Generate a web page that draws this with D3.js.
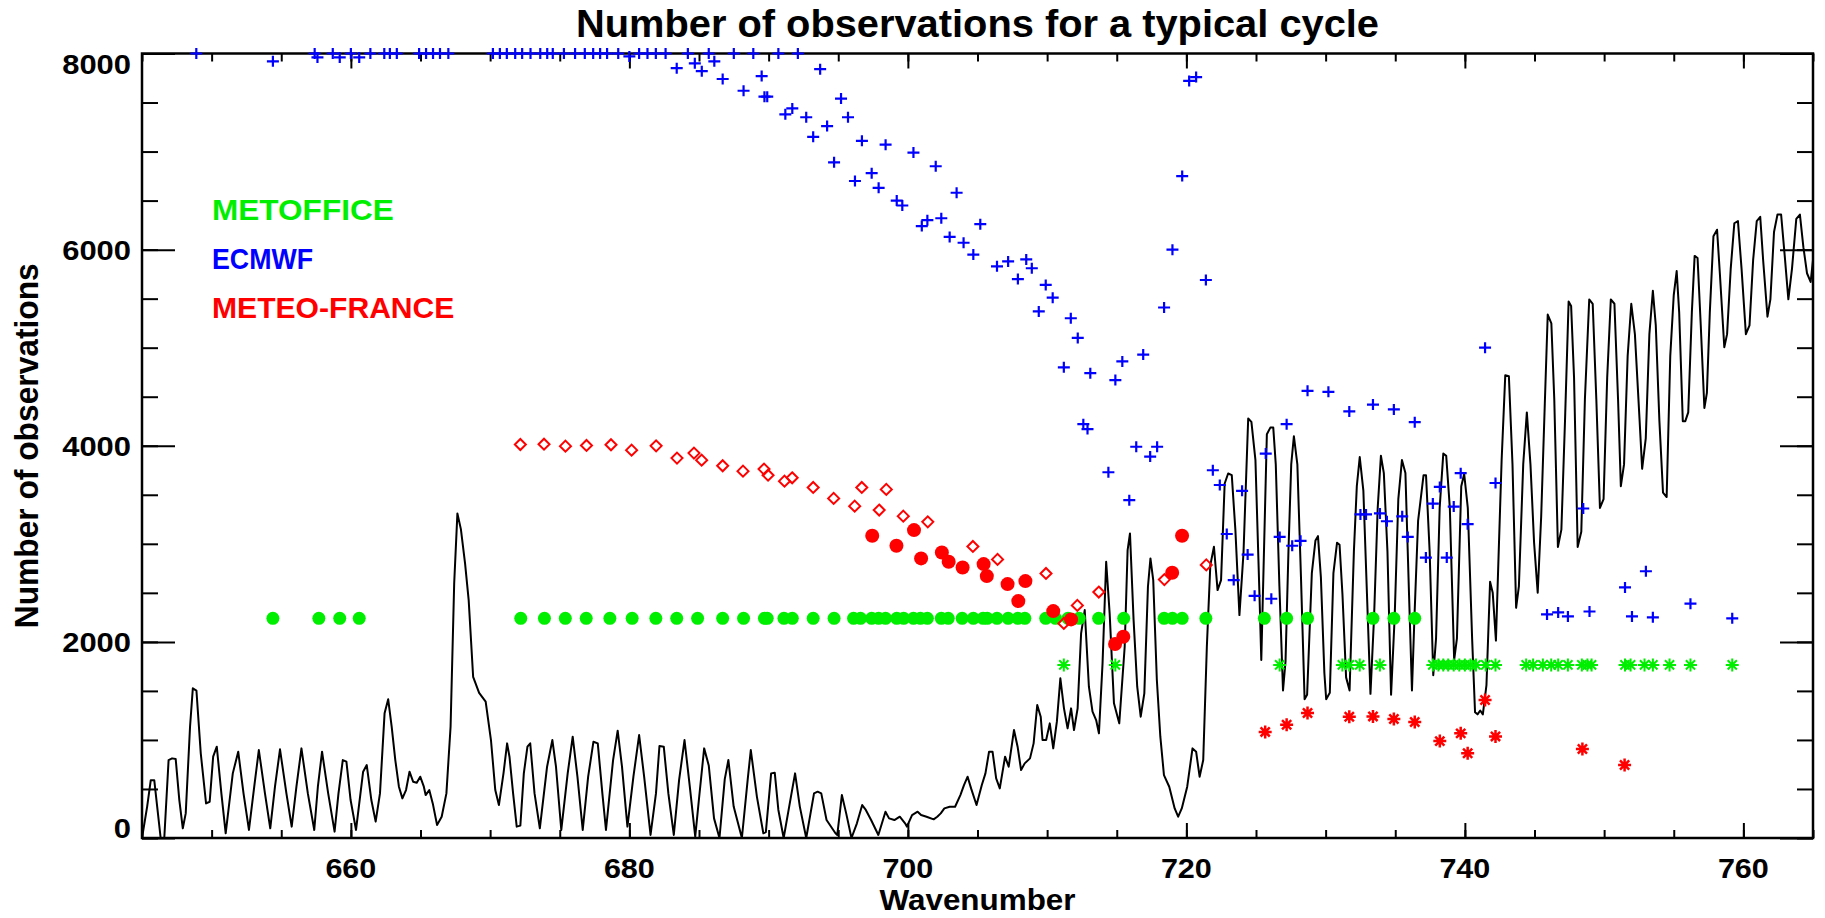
<!DOCTYPE html>
<html lang="en">
<head>
<meta charset="UTF-8">
<title>Number of observations for a typical cycle</title>
<script src="https://cdn.jsdelivr.net/npm/d3@7"></script>
<style>
  body { margin: 0; background: #fff; }
  text { font-family: "Liberation Sans", Arial, Helvetica, sans-serif; }
</style>
</head>
<body>
<svg id="chart" width="1825" height="918"></svg>
<script>
// black curve: [wavenumber, value]
const spectrum = [
  [645.0,0],[645.37,320],[645.63,590],[645.88,590],[646.09,320],[646.34,0],[646.6,0],[646.91,795],[647.16,812],[647.42,805],
  [647.68,387],[647.93,99],[648.14,251],[648.45,1135],[648.65,1526],[648.91,1502],[649.22,863],[649.6,353],[649.86,370],[650.11,829],
  [650.37,931],[650.7,455],[651.01,48],[651.52,659],[651.91,880],[652.29,455],[652.68,82],[653.06,523],[653.39,897],[653.83,455],
  [654.21,99],[654.55,523],[654.91,904],[655.37,455],[655.75,116],[656.09,523],[656.45,914],[656.91,455],[657.37,82],[657.63,523],
  [657.93,880],[658.37,455],[658.83,65],[659.11,455],[659.42,795],[659.68,778],[659.98,387],[660.37,82],[660.88,676],[661.14,744],
  [661.47,387],[661.78,167],[662.09,455],[662.42,1271],[662.68,1414],[662.93,1135],[663.19,795],[663.45,523],[663.7,404],[663.96,489],
  [664.21,676],[664.47,574],[664.73,564],[664.98,625],[665.24,523],[665.37,438],[665.63,489],[665.88,353],[666.19,133],[666.52,217],
  [666.86,455],[667.16,1135],[667.42,2600],[667.65,3310],[667.9,3150],[668.2,2800],[668.46,2426],[668.78,1644],[669.21,1480],[669.68,1390],
  [670.06,999],[670.37,489],[670.63,336],[670.96,659],[671.22,965],[671.39,829],[671.65,455],[671.91,116],[672.17,126],[672.42,659],
  [672.68,931],[672.88,965],[673.19,455],[673.57,99],[674.09,727],[674.47,999],[674.73,727],[675.11,82],[675.57,659],[675.93,1033],
  [676.27,625],[676.65,82],[677.04,625],[677.42,982],[677.73,965],[678.06,455],[678.32,82],[678.83,795],[679.16,1094],[679.47,727],
  [679.86,116],[680.29,625],[680.7,1050],[681.06,625],[681.52,31],[681.91,455],[682.16,938],[682.47,931],[682.8,455],[683.19,31],
  [683.57,591],[683.96,999],[684.34,523],[684.73,14],[685.0,400],[685.37,914],[685.7,740],[686.08,200],[686.47,0],[686.85,600],
  [687.11,795],[687.49,320],[688.08,0],[688.5,600],[688.72,897],[689.16,420],[689.62,48],[689.8,60],[690.18,659],[690.44,666],
  [690.7,286],[691.08,0],[691.6,420],[691.9,659],[692.24,320],[692.7,0],[693.26,455],[693.52,472],[693.78,455],[694.16,183],
  [694.8,48],[694.93,31],[695.26,438],[695.57,251],[695.95,0],[696.34,150],[696.72,336],[696.98,286],[697.36,183],[697.88,31],
  [698.39,268],[698.65,200],[699.03,183],[699.42,217],[699.8,150],[699.93,116],[700.3,234],[700.7,268],[700.95,234],[701.34,217],
  [701.85,190],[702.11,217],[702.36,251],[702.62,302],[703.0,319],[703.39,319],[703.77,438],[704.03,540],[704.29,625],[704.54,506],
  [704.93,336],[705.31,540],[705.57,659],[705.83,880],[706.08,880],[706.34,608],[706.6,506],[706.98,829],[707.24,727],[707.62,1101],
  [707.88,931],[708.13,693],[708.39,761],[708.77,812],[709.03,965],[709.29,1356],[709.54,1237],[709.67,999],[709.93,999],[710.19,1169],
  [710.44,914],[710.7,1186],[710.95,1628],[711.21,1322],[711.47,1118],[711.72,1322],[711.93,1101],[712.19,1322],[712.44,2086],[712.7,2324],
  [713.0,1543],[713.26,1288],[713.52,1203],[713.72,1067],[713.98,1781],[714.24,2817],[714.49,2290],[714.8,1373],[715.18,1169],[715.57,1950],
  [715.78,2936],[715.95,3106],[716.21,2222],[716.47,1543],[716.72,1237],[716.98,1475],[717.24,2562],[717.42,2851],[717.62,2630],[717.88,1611],
  [718.13,1033],[718.39,642],[718.77,523],[719.16,302],[719.41,217],[719.67,302],[720.06,523],[720.44,914],[720.7,880],[720.95,625],
  [721.21,795],[721.47,1950],[721.72,2783],[721.98,2970],[722.24,2528],[722.49,2630],[722.75,3615],[723.0,3717],[723.26,3700],[723.52,3140],
  [723.81,2273],[724.1,2902],[724.44,4278],[724.67,4244],[724.96,3853],[725.24,2528],[725.38,1815],[725.78,4118],[726.03,4185],[726.24,4185],
  [726.42,3810],[726.68,2569],[726.94,1505],[727.12,1800],[727.33,2923],[727.53,3810],[727.72,4097],[727.97,3810],[728.23,2658],[728.49,1416],
  [728.67,1460],[729.01,2702],[729.27,3034],[729.45,3078],[729.66,2658],[729.91,1683],[730.04,1416],[730.3,1480],[730.56,2702],[730.82,3012],
  [731.0,2990],[731.21,2480],[731.47,1638],[731.72,1505],[732.03,2923],[732.24,3588],[732.45,3885],[732.71,3543],[732.97,2480],[733.22,1470],
  [733.48,2258],[733.74,3366],[733.97,3898],[734.18,3721],[734.44,2923],[734.7,1461],[734.96,2258],[735.22,3455],[735.48,3854],[735.73,3721],
  [735.99,2480],[736.2,1505],[736.38,2258],[736.64,3233],[737.03,3699],[737.21,3699],[737.47,2923],[737.73,1660],[737.93,2036],[738.19,3366],
  [738.45,3920],[738.66,3898],[738.92,3366],[739.23,1815],[739.43,2036],[739.74,3588],[739.95,3712],[740.21,3366],[740.52,2036],[740.73,1283],
  [740.91,1261],[741.1,1300],[741.29,1261],[741.55,1560],[741.81,2613],[742.0,2500],[742.23,2013],[742.43,2923],[742.64,3854],[742.9,4718],
  [743.16,4709],[743.42,3810],[743.68,2347],[743.88,2569],[744.19,3810],[744.45,4340],[744.71,3810],[744.97,3012],[745.23,2502],[745.48,3278],
  [745.74,4429],[745.95,5338],[746.21,5249],[746.42,4474],[746.68,2968],[746.93,3145],[747.19,4251],[747.45,5470],[747.63,5426],[747.84,4695],
  [748.1,2968],[748.36,3122],[748.62,4474],[748.93,5492],[749.18,5448],[749.44,4474],[749.7,3366],[749.96,3455],[750.22,4695],[750.48,5492],
  [750.74,5448],[751.0,4474],[751.2,3588],[751.43,3810],[751.69,4917],[751.95,5448],[752.21,5138],[752.55,4251],[752.73,3765],[752.99,4074],
  [753.25,5138],[753.5,5581],[753.71,5227],[753.97,4251],[754.23,3521],[754.49,3477],[754.75,4917],[755.0,5537],[755.21,5781],[755.39,5360],
  [755.65,4251],[755.83,4251],[756.04,4340],[756.3,5360],[756.5,5936],[756.71,5914],[756.94,5227],[757.2,4385],[757.38,4540],[757.59,5360],
  [757.85,6137],[758.11,6203],[758.31,5759],[758.63,5005],[758.83,5138],[759.09,5803],[759.35,6269],[759.61,6291],[759.87,5803],[760.18,5138],
  [760.44,5227],[760.7,5892],[760.96,6291],[761.21,6335],[761.42,5892],[761.73,5316],[761.94,5493],[762.2,6180],[762.45,6358],[762.71,6358],
  [762.97,5936],[763.23,5493],[763.49,5803],[763.8,6313],[764.06,6358],[764.31,6025],[764.57,5759],[764.83,5670],[765.0,5892]
];

// METOFFICE filled circles
const metofficeDots = [
  [654.4,2240],[657.7,2240],[659.2,2240],[660.6,2240],[672.2,2240],[673.9,2240],[675.4,2240],[676.9,2240],[678.6,2240],[680.2,2240],
  [681.9,2240],[683.4,2240],[684.9,2240],[686.7,2240],[688.2,2240],[689.7,2240],[689.9,2240],[691.1,2240],[691.7,2240],[693.2,2240],
  [694.7,2240],[696.1,2240],[696.6,2240],[697.4,2240],[697.9,2240],[698.4,2240],[699.2,2240],[699.7,2240],[700.4,2240],[700.9,2240],
  [701.4,2240],[702.4,2240],[702.9,2240],[703.9,2240],[704.7,2240],[705.4,2240],[705.7,2240],[706.4,2240],[707.2,2240],[707.9,2240],
  [708.4,2240],[709.9,2240],[710.6,2240],[711.5,2240],[712.3,2240],[713.7,2240],[715.5,2240],[718.4,2240],[719.0,2240],[719.7,2240],
  [721.4,2240],[725.6,2240],[727.2,2240],[728.7,2240],[733.4,2240],[734.9,2240],[736.4,2240]
];
// METOFFICE asterisks
const metofficeStars = [
  [711.2,1765],[714.9,1765],[726.7,1765],[731.2,1765],[731.7,1765],[732.45,1765],[733.9,1765],[737.7,1765],[738.1,1765],[738.45,1765],
  [738.8,1765],[739.2,1765],[739.6,1765],[740.0,1765],[740.4,1765],[740.8,1765],[741.5,1765],[742.2,1765],[744.4,1765],[744.9,1765],
  [745.6,1765],[746.2,1765],[746.7,1765],[747.4,1765],[748.4,1765],[748.8,1765],[749.1,1765],[751.5,1765],[751.9,1765],[752.9,1765],
  [753.5,1765],[754.7,1765],[756.2,1765],[759.2,1765]
];
// ECMWF plus signs
const ecmwf = [
  [648.9,8000],[654.4,7920],[657.4,8000],[657.6,7960],[658.7,8000],[659.2,7960],[660.0,8000],[660.6,7960],[661.4,8000],[662.4,8000],
  [662.8,8000],[663.3,8000],[664.9,8000],[665.4,8000],[665.9,8000],[666.4,8000],[667.0,8000],[670.2,8000],[670.7,8000],[671.2,8000],
  [671.8,8000],[672.3,8000],[672.9,8000],[673.6,8000],[674.1,8000],[674.5,8000],[675.3,8000],[676.1,8000],[676.8,8000],[677.4,8000],
  [677.9,8000],[678.4,8000],[679.2,8000],[680.0,7970],[680.7,8000],[681.3,8000],[681.9,8000],[682.6,8000],[683.4,7850],[684.2,8000],
  [684.7,7900],[685.2,7820],[685.7,8000],[686.1,7920],[686.7,7740],[687.5,8000],[688.2,7620],[688.9,8000],[689.5,7770],[689.7,7560],
  [689.9,7560],[690.7,8000],[691.2,7380],[691.7,7440],[692.1,8000],[692.7,7350],[693.2,7150],[693.7,7840],[694.2,7260],[694.7,6890],
  [695.2,7540],[695.7,7350],[696.2,6700],[696.7,7110],[697.4,6780],[697.9,6630],[698.4,7070],[699.2,6500],[699.6,6450],[700.4,6990],
  [701.0,6240],[701.4,6300],[702.0,6850],[702.4,6320],[703.0,6130],[703.5,6580],[704.0,6070],[704.7,5950],[705.2,6260],[706.4,5830],
  [707.2,5880],[707.9,5700],[708.5,5900],[708.9,5810],[709.4,5370],[709.9,5640],[710.4,5510],[711.2,4800],[711.7,5300],[712.2,5100],
  [712.6,4220],[712.9,4170],[713.1,4740],[714.4,3730],[714.9,4670],[715.4,4860],[715.9,3445],[716.4,3990],[716.9,4930],[717.4,3890],
  [717.9,3990],[718.4,5410],[719.0,6000],[719.7,6750],[720.2,7720],[720.7,7760],[721.4,5690],[721.9,3750],[722.4,3600],[722.9,3100],
  [723.4,2630],[724.0,3540],[724.4,2890],[724.9,2470],[725.7,3920],[726.1,2440],[726.7,3070],[727.2,4220],[727.6,2980],[728.2,3030],
  [728.7,4560],[730.2,4550],[731.7,4350],[732.5,3300],[732.9,3300],[733.4,4420],[733.9,3310],[734.4,3230],[734.9,4370],[735.5,3280],
  [735.9,3070],[736.4,4240],[737.2,2860],[737.7,3410],[738.2,3580],[738.7,2860],[739.2,3380],[739.7,3720],[740.2,3200],[741.45,5000],
  [742.2,3620],[745.9,2280],[746.7,2300],[747.4,2260],[748.5,3360],[748.95,2310],[751.5,2555],[752.0,2260],[753.0,2720],[753.5,2250],
  [756.2,2390],[759.2,2240]
];
// METEO-FRANCE open diamonds
const meteoFranceDiamonds = [
  [672.17,4013],[673.87,4016],[675.41,3996],[676.92,4003],[678.68,4010],[680.16,3955],[681.92,3999],[683.42,3874],[684.64,3925],[685.19,3853],
  [686.7,3796],[688.16,3741],[689.67,3762],[689.96,3700],[691.14,3639],[691.69,3673],[693.2,3575],[694.67,3463],[696.18,3384],[696.69,3575],
  [697.94,3344],[698.45,3555],[699.67,3282],[701.43,3224],[704.67,2973],[706.44,2841],[709.92,2698],[711.2,2188],[712.17,2372],[713.71,2508],
  [718.42,2635],[721.43,2785]
];
// METEO-FRANCE filled circles
const meteoFranceDots = [
  [697.44,3082],[699.18,2980],[700.44,3140],[700.95,2851],[702.44,2912],[702.93,2817],[703.93,2759],[705.44,2793],[705.67,2671],[707.16,2589],
  [707.93,2416],[708.44,2620],[710.44,2314],[711.72,2229],[714.88,1978],[715.47,2052],[718.98,2705],[719.69,3082]
];
// METEO-FRANCE asterisks
const meteoFranceStars = [
  [725.66,1082],[727.2,1155],[728.7,1275],[731.7,1236],[733.4,1240],[734.9,1213],[736.4,1182],[738.2,988],[739.7,1067],[740.2,865],
  [741.45,1408],[742.2,1036],[748.44,907],[751.47,744]
];

const xTicks = [660, 680, 700, 720, 740, 760];
const yTicks = [0, 2000, 4000, 6000, 8000];
const legendItems = ['METOFFICE', 'ECMWF', 'METEO-FRANCE'];
const legendColors = ['#00ee00', '#0000ff', '#ff0000'];

const svg = d3.select('#chart');
const plotLeft = 142, plotRight = 1813, plotTop = 53.5, plotBottom = 838;

const x = d3.scaleLinear().domain([645, 765]).range([plotLeft, plotRight]);
const y = d3.scaleLinear().domain([0, 8000]).range([plotBottom, plotTop]);

// ticks on all four sides, pointing inward
function tickAxis(axisFn, scale, values, size, transform) {
  svg.append('g')
    .attr('transform', transform)
    .attr('stroke-width', 2)
    .call(axisFn(scale).tickValues(values).tickSize(size).tickSizeOuter(0).tickFormat(''))
    .call(g => g.select('.domain').remove());
}
const xMinor = d3.range(645, 766, 5);
const yMinor = d3.range(0, 8001, 500);
tickAxis(d3.axisBottom, x, xMinor, -8, `translate(0,${plotBottom})`);
tickAxis(d3.axisBottom, x, xTicks, -15, `translate(0,${plotBottom})`);
tickAxis(d3.axisTop, x, xMinor, -8, `translate(0,${plotTop})`);
tickAxis(d3.axisTop, x, xTicks, -15, `translate(0,${plotTop})`);
tickAxis(d3.axisLeft, y, yMinor, -16, `translate(${plotLeft},0)`);
tickAxis(d3.axisLeft, y, yTicks, -33, `translate(${plotLeft},0)`);
tickAxis(d3.axisRight, y, yMinor, -16, `translate(${plotRight},0)`);
tickAxis(d3.axisRight, y, yTicks, -33, `translate(${plotRight},0)`);

svg.append('rect')
  .attr('x', plotLeft).attr('y', plotTop)
  .attr('width', plotRight - plotLeft).attr('height', plotBottom - plotTop)
  .attr('fill', 'none').attr('stroke', '#000').attr('stroke-width', 2.5);

// tick labels
svg.append('g').selectAll('text')
  .data(xTicks).join('text')
  .attr('x', d => x(d)).attr('y', 878)
  .attr('text-anchor', 'middle')
  .attr('font-size', 28).attr('font-weight', 'bold')
  .attr('textLength', d => String(d).length * 17)
  .attr('lengthAdjust', 'spacingAndGlyphs')
  .text(d => d);

svg.append('g').selectAll('text')
  .data(yTicks).join('text')
  .attr('x', 131)
  .attr('y', d => d === 0 ? plotBottom : d === 8000 ? plotTop + 20 : y(d) + 10)
  .attr('text-anchor', 'end')
  .attr('font-size', 28).attr('font-weight', 'bold')
  .attr('textLength', d => String(d).length * 17.2)
  .attr('lengthAdjust', 'spacingAndGlyphs')
  .text(d => d);

// titles
svg.append('text')
  .attr('x', (plotLeft + plotRight) / 2).attr('y', 37)
  .attr('text-anchor', 'middle').attr('font-weight', 'bold').attr('font-size', 38)
  .attr('textLength', 803).attr('lengthAdjust', 'spacingAndGlyphs')
  .text('Number of observations for a typical cycle');

svg.append('text')
  .attr('x', (plotLeft + plotRight) / 2).attr('y', 910)
  .attr('text-anchor', 'middle').attr('font-weight', 'bold').attr('font-size', 30)
  .attr('textLength', 196).attr('lengthAdjust', 'spacingAndGlyphs')
  .text('Wavenumber');

svg.append('text')
  .attr('transform', `translate(38,${(plotTop + plotBottom) / 2}) rotate(-90)`)
  .attr('text-anchor', 'middle').attr('font-weight', 'bold').attr('font-size', 33)
  .attr('textLength', 365).attr('lengthAdjust', 'spacingAndGlyphs')
  .text('Number of observations');

// legend
svg.append('g').selectAll('text')
  .data(legendItems).join('text')
  .attr('x', 212)
  .attr('y', (d, i) => 220 + i * 49)
  .attr('fill', (d, i) => legendColors[i])
  .attr('font-weight', 'bold').attr('font-size', 30)
  .attr('textLength', d => d.length * 20.2).attr('lengthAdjust', 'spacingAndGlyphs')
  .text(d => d);

// black curve
svg.append('path')
  .datum(spectrum)
  .attr('d', d3.line().x(d => x(d[0])).y(d => y(d[1])))
  .attr('fill', 'none').attr('stroke', '#000').attr('stroke-width', 2)
  .attr('stroke-linejoin', 'round');

const plusPath = 'M-6,0H6M0,-5.5V5.5';
const starPath = 'M-6.5,0H6.5M0,-6.5V6.5M-4.6,-4.6L4.6,4.6M-4.6,4.6L4.6,-4.6';
const diamondPath = 'M0,-5.5L5.5,0L0,5.5L-5.5,0Z';

svg.append('g').selectAll('circle')
  .data(metofficeDots).join('circle')
  .attr('cx', d => x(d[0])).attr('cy', d => y(d[1]))
  .attr('r', 6.5).attr('fill', legendColors[0]);

svg.append('g').selectAll('path')
  .data(metofficeStars).join('path')
  .attr('transform', d => `translate(${x(d[0])},${y(d[1])})`)
  .attr('d', starPath).attr('stroke', legendColors[0]).attr('stroke-width', 2);

svg.append('g').selectAll('path')
  .data(ecmwf).join('path')
  .attr('transform', d => `translate(${x(d[0])},${y(d[1])})`)
  .attr('d', plusPath).attr('stroke', legendColors[1]).attr('stroke-width', 2.2);

svg.append('g').selectAll('path')
  .data(meteoFranceDiamonds).join('path')
  .attr('transform', d => `translate(${x(d[0])},${y(d[1])})`)
  .attr('d', diamondPath).attr('fill', 'none')
  .attr('stroke', legendColors[2]).attr('stroke-width', 2);

svg.append('g').selectAll('circle')
  .data(meteoFranceDots).join('circle')
  .attr('cx', d => x(d[0])).attr('cy', d => y(d[1]))
  .attr('r', 7).attr('fill', legendColors[2]);

svg.append('g').selectAll('path')
  .data(meteoFranceStars).join('path')
  .attr('transform', d => `translate(${x(d[0])},${y(d[1])})`)
  .attr('d', starPath).attr('stroke', legendColors[2]).attr('stroke-width', 2.5);
</script>
</body>
</html>
